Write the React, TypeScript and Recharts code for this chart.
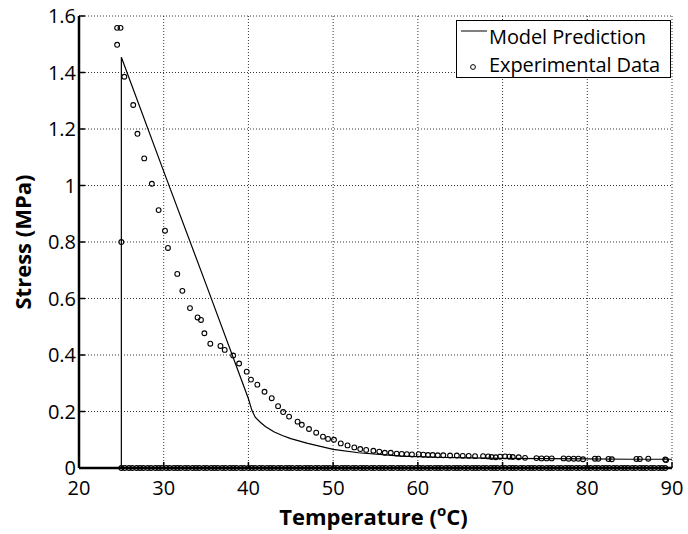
import React from "react";
import {
  ComposedChart,
  Scatter,
  XAxis,
  YAxis,
  CartesianGrid,
  Legend,
} from "recharts";

const TEMP_TICKS = [20, 30, 40, 50, 60, 70, 80, 90];
const STRESS_TICKS = [0, 0.2, 0.4, 0.6, 0.8, 1, 1.2, 1.4, 1.6];

// model prediction (solid line)
const modelTemp = [25, 25, 30, 35, 40, 40.4, 40.8, 41.4, 42, 43, 44, 45, 47, 50, 53, 58, 62, 66, 70, 75, 80, 85, 90];
const modelStress = [0, 1.454, 1.05, 0.65, 0.245, 0.205, 0.18, 0.162, 0.147, 0.128, 0.115, 0.104, 0.087, 0.066, 0.054, 0.042, 0.038, 0.036, 0.034, 0.033, 0.032, 0.031, 0.031];

// experimental data (open circles)
const expTemp = [
  24.5, 24.9, 24.5, 25, 25.35, 26.4, 26.9, 27.7, 28.6, 29.4, 30.15, 30.5, 31.6, 32.2, 33.1, 34.0,
  34.4, 34.8, 35.5, 36.7, 37.2, 38.2, 38.9, 39.8, 40.3, 41.05, 41.9, 42.75, 43.5, 44.1, 44.8, 45.8,
  46.3, 47.15, 48.0, 48.8, 49.4, 50.1, 50.9, 51.7, 52.5, 53.2, 53.9, 54.75, 55.45, 56.1, 56.8, 57.5,
  58.1, 58.7, 59.3, 60.1, 60.65, 61.2, 61.75, 62.35, 63.0, 63.8, 64.6, 65.3, 66.0, 66.75, 67.7, 68.3,
  68.7, 69.2, 69.7, 70.3, 70.8, 71.2, 71.9, 72.65, 74.0, 74.6, 75.2, 75.8, 77.2, 77.8, 78.4, 78.95,
  79.5, 80.9, 81.3, 82.5, 82.9, 85.8, 86.2, 87.2, 89.2, 89.3,
];
const expStress = [
  1.558, 1.558, 1.498, 0.8, 1.385, 1.285, 1.183, 1.096, 1.006, 0.913, 0.84, 0.779, 0.687, 0.627, 0.566, 0.533,
  0.524, 0.477, 0.44, 0.432, 0.418, 0.398, 0.37, 0.341, 0.313, 0.295, 0.27, 0.247, 0.219, 0.198, 0.182, 0.164,
  0.153, 0.138, 0.125, 0.111, 0.103, 0.1, 0.087, 0.08, 0.073, 0.067, 0.064, 0.061, 0.058, 0.054, 0.054, 0.051,
  0.05, 0.049, 0.048, 0.049, 0.047, 0.046, 0.046, 0.045, 0.045, 0.044, 0.044, 0.043, 0.043, 0.042, 0.042, 0.041,
  0.039, 0.038, 0.04, 0.041, 0.04, 0.039, 0.038, 0.036, 0.035, 0.034, 0.034, 0.034, 0.034, 0.033, 0.033, 0.033,
  0.031, 0.033, 0.033, 0.032, 0.031, 0.032, 0.032, 0.033, 0.03, 0.028,
];

// readings sitting on the zero line
const zeroTemp = [
  25, 25.4, 25.9, 26.3, 26.8, 27.2, 27.6, 28.1, 28.5, 29, 29.4, 29.8, 30.3, 30.7, 31.2, 31.6, 32, 32.5,
  32.9, 33.4, 33.8, 34.2, 34.7, 35.1, 35.6, 36, 36.4, 36.9, 37.3, 37.8, 38.2, 38.6, 39.1, 39.5, 40, 40.4,
  40.8, 41.3, 41.7, 42.2, 42.6, 43, 43.5, 43.9, 44.4, 44.8, 45.2, 45.7, 46.1, 46.6, 47, 47.4, 47.9, 48.3,
  48.8, 49.2, 49.6, 50.1, 50.5, 51, 51.4, 51.8, 52.3, 52.7, 53.2, 53.6, 54, 54.5, 54.9, 55.4, 55.8, 56.2,
  56.7, 57.1, 57.6, 58, 58.4, 58.9, 59.3, 59.8, 60.2, 60.6, 61.1, 61.5, 62, 62.4, 62.8, 63.3, 63.7, 64.2,
  64.6, 65, 65.5, 65.9, 66.4, 66.8, 67.2, 67.7, 68.1, 68.6, 69, 69.4, 69.9, 70.3, 70.8, 71.2, 71.6, 72.1,
  72.5, 73, 73.4, 73.8, 74.3, 74.7, 75.2, 75.6, 76, 76.5, 76.9, 77.4, 77.8, 78.2, 78.7, 79.1, 79.6, 80,
  80.4, 80.9, 81.3, 81.8, 82.2, 82.6, 83.1, 83.5, 84, 84.4, 84.8, 85.3, 85.7, 86.2, 86.6, 87, 87.5, 87.9,
  88.4, 88.8, 89.2,
];

const modelData = modelTemp.map((t, i) => ({ t, s: modelStress[i] }));
const expData = [
  ...expTemp.map((t, i) => ({ t, s: expStress[i] })),
  ...zeroTemp.map((t) => ({ t, s: 0 })),
];

const FONT = "'Open Sans'";
const tickFont = { fill: "#000", fontSize: 20, fontFamily: FONT };

function OpenCircle(props: any) {
  return <circle cx={props.cx} cy={props.cy} r={2.4} fill="none" stroke="#000" strokeWidth={1.1} />;
}

function NoDot() {
  return <g />;
}

function YLabel(props: any) {
  const { x, y, height } = props.viewBox;
  const cx = x + 22;
  const cy = y + height / 2;
  return (
    <text
      x={cx}
      y={cy}
      transform={`rotate(-90 ${cx} ${cy})`}
      textAnchor="middle"
      dominantBaseline="central"
      fontFamily={FONT}
      fontWeight="bold"
      fontSize={22}
      fill="#000"
    >
      Stress (MPa)
    </text>
  );
}

function XLabel(props: any) {
  const { x, y, width } = props.viewBox;
  return (
    <text
      x={x + width / 2 - 2}
      y={y + 57}
      textAnchor="middle"
      fontFamily={FONT}
      fontWeight="bold"
      fontSize={22}
      fill="#000"
    >
      Temperature (
      <tspan dy={-9} fontSize={15}>o</tspan>
      <tspan dy={9}>C)</tspan>
    </text>
  );
}

function LegendBox() {
  return (
    <div
      style={{
        position: "relative",
        width: 213,
        height: 56,
        border: "1px solid #000",
        background: "#fff",
        fontFamily: FONT,
        fontSize: 20,
        lineHeight: "24px",
        color: "#000",
      }}
    >
      <svg width={32} height={56} style={{ position: "absolute", left: 0, top: 0 }}>
        <line x1={4} y1={10} x2={30} y2={10} stroke="#000" strokeWidth={1} />
        <circle cx={16} cy={46} r={2.4} fill="none" stroke="#000" strokeWidth={1} />
      </svg>
      <div style={{ position: "absolute", left: 32, top: 4, whiteSpace: "nowrap", letterSpacing: -0.1 }}>Model Prediction</div>
      <div style={{ position: "absolute", left: 32, top: 32, whiteSpace: "nowrap", letterSpacing: -0.1 }}>Experimental Data</div>
    </div>
  );
}

export default function App() {
  return (
    <div style={{ position: "fixed", left: 0, top: 0, background: "#fff" }}>
      <ComposedChart
        width={688}
        height={534}
        margin={{ top: 16, right: 16, bottom: 36, left: 0 }}
      >
        <CartesianGrid stroke="#000" strokeDasharray="1 2" strokeWidth={0.8} />
        <XAxis
          xAxisId={0}
          dataKey="t"
          type="number"
          domain={[20, 90]}
          ticks={TEMP_TICKS}
          height={30}
          tick={tickFont}
          tickSize={-6}
          tickMargin={19}
          tickLine={{ stroke: "#000", strokeWidth: 1.5 }}
          axisLine={{ stroke: "#000", strokeWidth: 2.5 }}
          label={XLabel}
        />
        <XAxis
          xAxisId="top"
          orientation="top"
          type="number"
          domain={[20, 90]}
          ticks={TEMP_TICKS}
          mirror
          height={0}
          tick={false}
          tickSize={6}
          tickLine={{ stroke: "#000", strokeWidth: 1.5 }}
          axisLine={{ stroke: "#000", strokeWidth: 2.5 }}
        />
        <YAxis
          yAxisId={0}
          dataKey="s"
          type="number"
          domain={[0, 1.6]}
          ticks={STRESS_TICKS}
          width={79}
          tick={tickFont}
          tickSize={-6}
          tickMargin={9}
          tickLine={{ stroke: "#000", strokeWidth: 1.5 }}
          axisLine={{ stroke: "#000", strokeWidth: 2.5 }}
          label={YLabel}
        />
        <YAxis
          yAxisId="right"
          orientation="right"
          type="number"
          domain={[0, 1.6]}
          ticks={STRESS_TICKS}
          mirror
          width={0}
          tick={false}
          tickSize={6}
          tickLine={{ stroke: "#000", strokeWidth: 1.5 }}
          axisLine={{ stroke: "#000", strokeWidth: 2.5 }}
        />
        <Legend
          content={LegendBox}
          layout="vertical"
          align="center"
          verticalAlign="middle"
          wrapperStyle={{ position: "absolute", left: 456, top: 20, width: 215, height: 58 }}
        />
        <Scatter
          name="Model Prediction"
          data={modelData}
          xAxisId={0}
          yAxisId={0}
          line={{ stroke: "#000", strokeWidth: 1.2 }}
          lineType="joint"
          shape={NoDot}
          isAnimationActive={false}
        />
        <Scatter
          name="Experimental Data"
          data={expData}
          xAxisId={0}
          yAxisId={0}
          shape={OpenCircle}
          isAnimationActive={false}
        />
      </ComposedChart>
    </div>
  );
}
